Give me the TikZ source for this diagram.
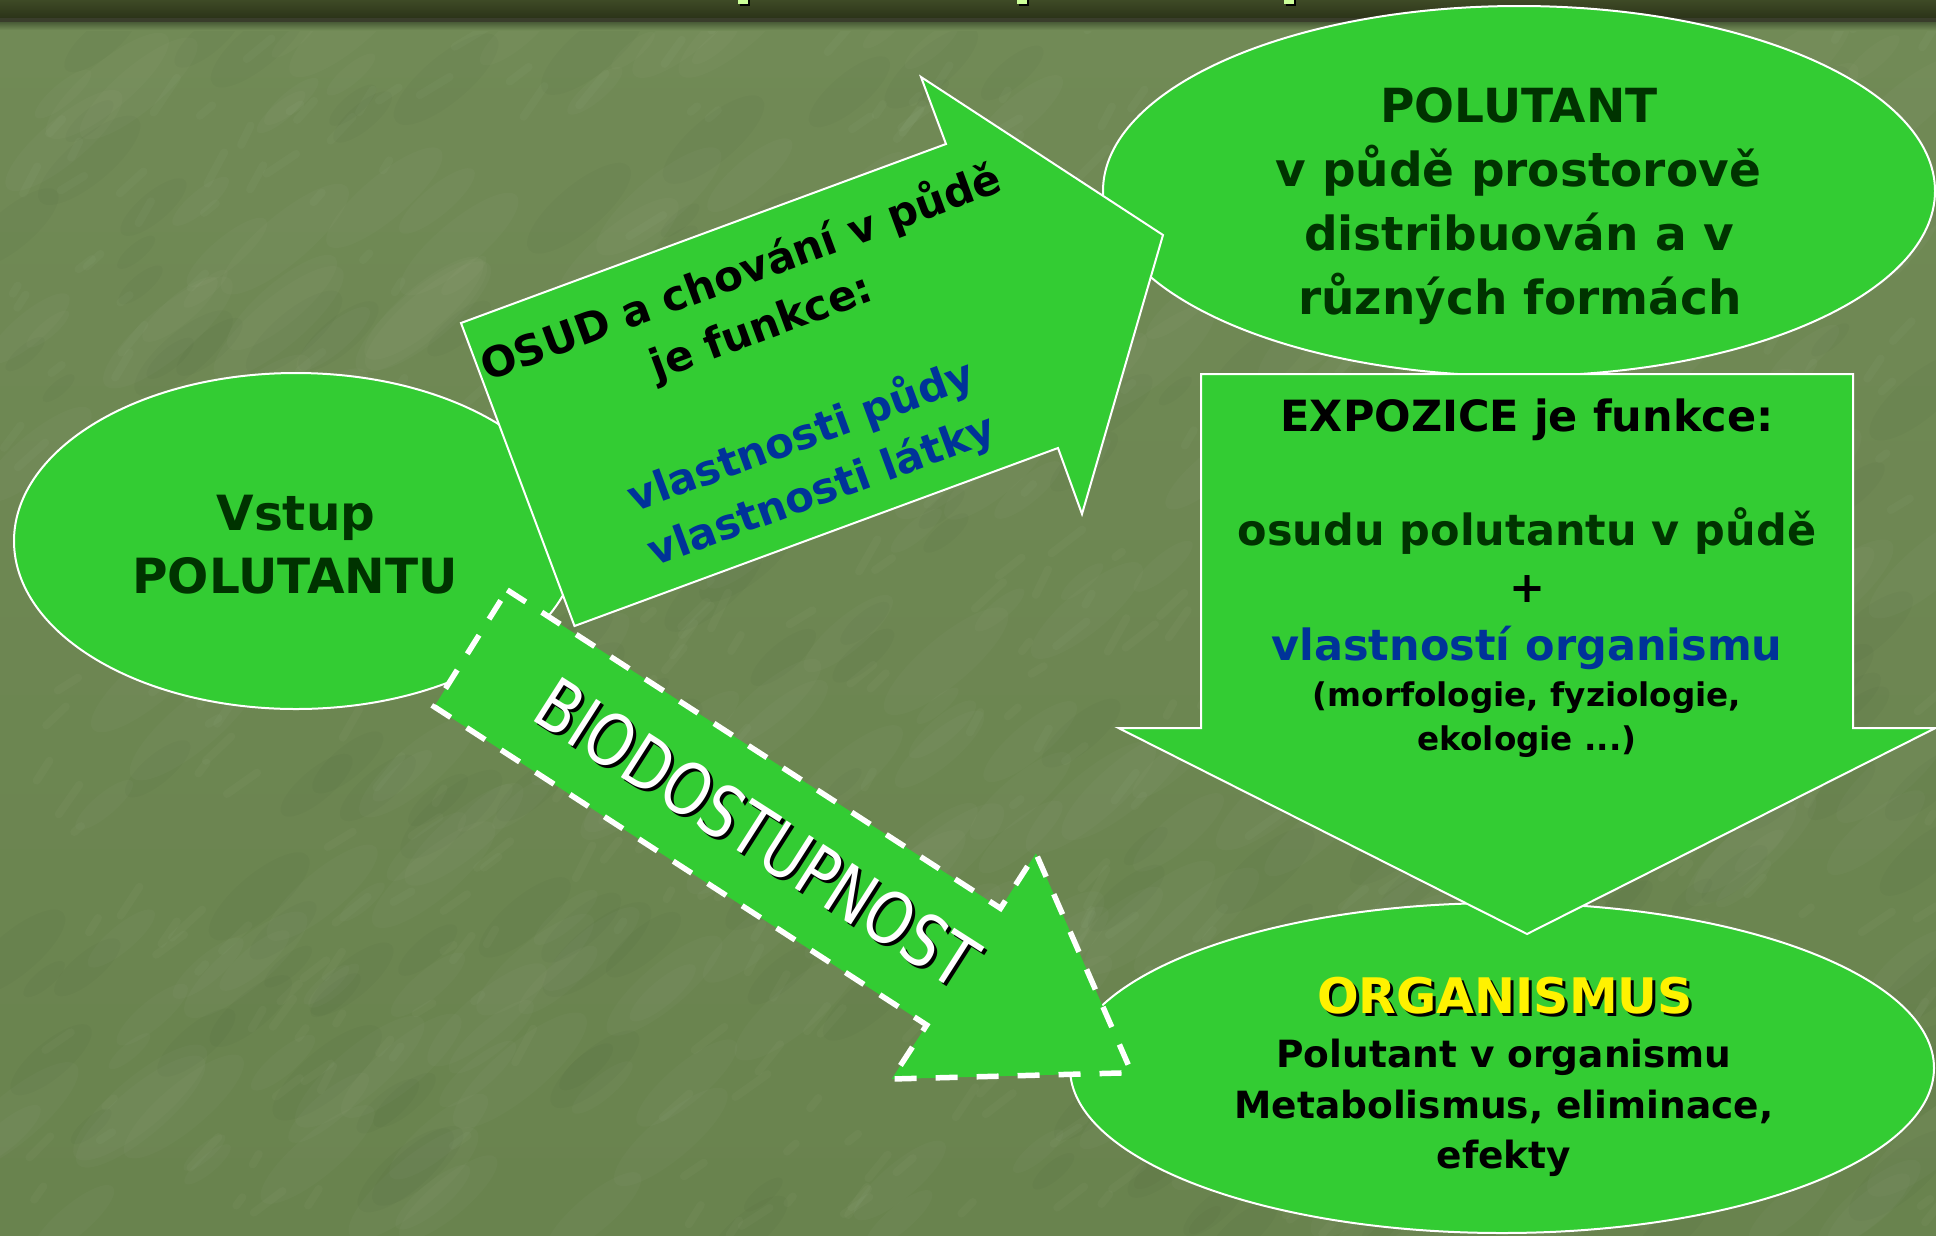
\documentclass[tikz,border=0pt]{standalone}
\usepackage{fontspec}
\setmainfont{DejaVu Sans}
\usetikzlibrary{shapes.geometric}

\definecolor{leaf}{HTML}{33CC33}
\definecolor{deepgreen}{HTML}{003300}
\definecolor{inkblue}{HTML}{003399}
\definecolor{oliveA}{HTML}{718A56}
\definecolor{oliveB}{HTML}{69834E}
\definecolor{barTop}{HTML}{3E4A26}
\definecolor{barBot}{HTML}{2B3318}
\definecolor{barLine}{HTML}{393D2B}
\definecolor{titlegreen}{HTML}{CCFF99}

% font sizes (1pt = 1 unit of the drawing)
\newcommand\fontEllipse{\fontsize{47}{56}\selectfont\bfseries}
\newcommand\fontInlet{\fontsize{48.5}{58}\selectfont\bfseries}
\newcommand\fontOrgTitle{\fontsize{49}{58}\selectfont\bfseries}
\newcommand\fontOrgBody{\fontsize{37.5}{45}\selectfont\bfseries}
\newcommand\fontExpo{\fontsize{43}{52}\selectfont\bfseries}
\newcommand\fontExpoSmall{\fontsize{32.6}{40}\selectfont\bfseries}
\newcommand\fontFate{\fontsize{42}{50}\selectfont\bfseries}
\newcommand\fontBio{\fontsize{72}{82}\selectfont}
% narrow lettering for the bioavailability label
\newcommand\narrowtext[1]{\scalebox{0.81}[1]{#1}}

\tikzset{
  blob/.style={ellipse, fill=leaf, draw=white, line width=2pt, inner sep=0pt},
  blockarrow/.style={fill=leaf, draw=white, line width=2pt, line join=miter},
  dasharrow/.style={fill=leaf, draw=white, line width=5.5pt,
                    dash pattern=on 22pt off 19pt, line join=miter},
  lbl/.style={anchor=base, inner sep=0pt, outer sep=0pt, align=center},
}

\begin{document}
\begin{tikzpicture}[x=1pt, y=-1pt]
\useasboundingbox (0,0) rectangle (1936,1235);
\clip (0,0) rectangle (1936,1235);

% slide background with a soft mottled texture
\shade[top color=oliveA, bottom color=oliveB] (0,0) rectangle (1936,1235);
\pgfmathsetseed{4711}
\foreach \i in {1,...,300}{
  \pgfmathsetmacro{\sx}{rnd*1936}
  \pgfmathsetmacro{\sy}{25+rnd*1210}
  \pgfmathsetmacro{\sr}{25+rnd*60}
  \fill[white, opacity=0.022, rotate around={40:(\sx,\sy)}]
    (\sx,\sy) ellipse [x radius=\sr, y radius=0.3*\sr];
}
\foreach \i in {1,...,500}{
  \pgfmathsetmacro{\sx}{rnd*1936}
  \pgfmathsetmacro{\sy}{25+rnd*1210}
  \pgfmathsetmacro{\sl}{8+rnd*35}
  \pgfmathsetmacro{\sa}{-30-rnd*35}
  \draw[white, opacity=0.028, line width=8pt, line cap=round]
    (\sx,\sy) -- ++(\sa:\sl);
}
\foreach \i in {1,...,200}{
  \pgfmathsetmacro{\sx}{rnd*1936}
  \pgfmathsetmacro{\sy}{25+rnd*1210}
  \pgfmathsetmacro{\sr}{20+rnd*50}
  \fill[black, opacity=0.02, rotate around={40:(\sx,\sy)}]
    (\sx,\sy) ellipse [x radius=\sr, y radius=0.35*\sr];
}

% title bar
\shade[top color=barTop, bottom color=barBot] (0,0) rectangle (1936,18);
\fill[barLine] (0,18) rectangle (1936,22);
\shade[top color=oliveB!70!black, bottom color=oliveA] (0,22) rectangle (1936,30);
\foreach \tx in {738,1017,1284}{
  \fill[black] (\tx+2,0) rectangle (\tx+12,6);
  \fill[titlegreen] (\tx,0) rectangle (\tx+10,4);
}

% ellipses
\node[blob, minimum width=564pt, minimum height=336pt] (inlet) at (296,541) {};
\node[blob, minimum width=832pt, minimum height=370pt] (soil) at (1519,191) {};
\node[blob, minimum width=864pt, minimum height=330pt] (organism) at (1502,1068) {};

\node[lbl, text=deepgreen, font=\fontInlet] (inlet1) at (296,530) {Vstup};
\node[lbl, text=deepgreen, font=\fontInlet] (inlet2) at (295,593) {POLUTANTU};

\node[lbl, text=deepgreen, font=\fontEllipse] (soil1) at (1519,122.7) {POLUTANT};
\node[lbl, text=deepgreen, font=\fontEllipse] (soil2) at (1518,186.7) {v půdě prostorově};
\node[lbl, text=deepgreen, font=\fontEllipse] (soil3) at (1519,250) {distribuován a v};
\node[lbl, text=deepgreen, font=\fontEllipse] (soil4) at (1520,314) {různých formách};

\node[lbl, text=black, font=\fontOrgTitle] (orgshadow) at (1508,1016) {ORGANISMUS};
\node[lbl, text=yellow, font=\fontOrgTitle] (orgtitle) at (1505,1013) {ORGANISMUS};
\node[lbl, text=black, font=\fontOrgBody] (org1) at (1504,1067) {Polutant v organismu};
\node[lbl, text=black, font=\fontOrgBody] (org2) at (1504,1118) {Metabolismus, eliminace,};
\node[lbl, text=black, font=\fontOrgBody] (org3) at (1504,1168) {efekty};

% fate arrow (from the input towards the soil)
\draw[blockarrow] (461,323) -- (946,144) -- (921,77) -- (1163,235)
  -- (1082,514) -- (1058,448) -- (574.5,626) -- cycle;
\node[lbl, rotate=20.25, text=black, font=\fontFate] (fate1) at (746,286) {OSUD a chování v půdě};
\node[lbl, rotate=20.25, text=black, font=\fontFate] (fate2) at (766.1,340.4) {je funkce:};
\node[lbl, rotate=20.25, text=inkblue, font=\fontFate] (fate3) at (806.2,449.2) {vlastnosti půdy};
\node[lbl, rotate=20.25, text=inkblue, font=\fontFate] (fate4) at (826.3,503.5) {vlastnosti látky};

% exposure arrow (from the soil down to the organism)
\draw[blockarrow] (1201,374) -- (1853,374) -- (1853,728) -- (1935.5,728)
  -- (1527,934) -- (1118.5,728) -- (1201,728) -- cycle;
\node[lbl, text=black, font=\fontExpo] (expo1) at (1527,431) {EXPOZICE je funkce:};
\node[lbl, text=deepgreen, font=\fontExpo] (expo2) at (1527,545) {osudu polutantu v půdě};
\node[lbl, text=black, font=\fontExpo] (expo3) at (1527,602) {+};
\node[lbl, text=inkblue, font=\fontExpo] (expo4) at (1527,660) {vlastností organismu};
\node[lbl, text=black, font=\fontExpoSmall] (expo5) at (1527,706) {(morfologie, fyziologie,};
\node[lbl, text=black, font=\fontExpoSmall] (expo6) at (1527,750) {ekologie ...)};

% bioavailability arrow (from the input straight to the organism)
\draw[dasharrow] (507.3,590) -- (1000.5,908.3) -- (1035.9,853.3) -- (1131.7,1072.7)
  -- (891.7,1079) -- (926.7,1025) -- (434.2,706.7) -- cycle;
\node[lbl, rotate=-32.6, text=black, font=\fontBio] (bioshadow) at (746,858) {\narrowtext{BIODOSTUPNOST}};
\node[lbl, rotate=-32.6, text=white, font=\fontBio] (bio) at (743,855) {\narrowtext{BIODOSTUPNOST}};
\end{tikzpicture}
\end{document}
